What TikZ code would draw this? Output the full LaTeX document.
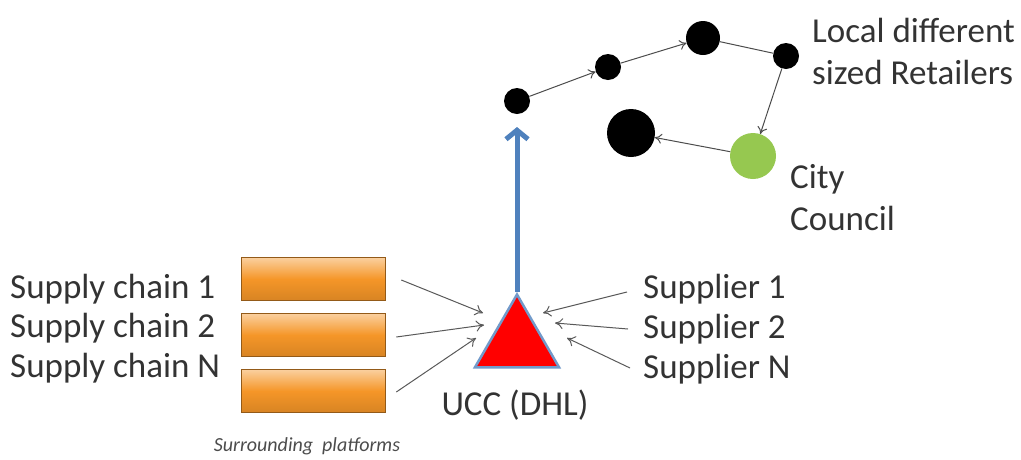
\documentclass[tikz,border=0pt]{standalone}
\usepackage{fontspec}
\setmainfont{Carlito}
\usetikzlibrary{shapes.geometric,arrows.meta}

\definecolor{ucclue}{RGB}{79,129,189}
\definecolor{barorange}{RGB}{245,150,40}
\definecolor{councilgreen}{RGB}{150,200,80}

\begin{document}
\begin{tikzpicture}[x=1pt,y=-1pt,
		lbl/.style={font=\fontsize{35}{40}\selectfont, text=black!80, inner sep=0pt},
		platform/.style={rectangle, minimum width=144pt, minimum height=43pt, inner sep=0pt,
			top color=barorange!45!white, bottom color=barorange!88!black, middle color=barorange,
			draw=barorange!60!black, line width=0.6pt},
		feed/.style={draw=black!65, line width=1pt, -{To[length=8pt,width=11pt]}},
		shop/.style={circle, fill=black, inner sep=0pt},
		route/.style={draw=black!70, line width=1pt, -{To[length=7pt,width=10pt]}}]
	\useasboundingbox (0,0) rectangle (1021,459);

	% surrounding platforms
	\foreach \i/\y/\ty/\name in {1/279/289/1, 2/335/328/2, 3/391/368/N} {
		\node[platform] (b\i) at (313,\y) {};
		\node[lbl, anchor=west] (sc\i) at (10,\ty) {Supply chain \name};
	}
	\node[font=\itshape\fontsize{20}{24}\selectfont, text=black!70] (plat) at (307,446) {Surrounding\ \ platforms};

	% UCC
	\node[regular polygon, regular polygon sides=3, minimum size=97pt, inner sep=0pt,
		fill=red, draw=ucclue!80, line width=2.5pt] (ucc) at (517,343) {};
	\node[lbl] (ucctext) at (515,405) {UCC (DHL)};

	% suppliers
	\foreach \i/\y/\name in {1/289/1, 2/329/2, 3/369/N}
		\node[lbl, anchor=west] (s\i) at (643,\y) {Supplier \name};

	% feeding arrows
	\coordinate (l1) at (483,313);
	\coordinate (l2) at (484,325);
	\coordinate (l3) at (476,338);
	\coordinate (r1) at (543,313);
	\coordinate (r2) at (555,323);
	\coordinate (r3) at (567,338);
	\draw[feed] ([xshift=16pt,yshift=-1pt]b1.east) -- (l1);
	\draw[feed] ([xshift=11pt,yshift=-2pt]b2.east) -- (l2);
	\draw[feed] ([xshift=11pt,yshift=-1pt]b3.east) -- (l3);
	\draw[feed] ([xshift=-16pt,yshift=-3pt]s1.west) -- (r1);
	\draw[feed] ([xshift=-15pt]s2.west) -- (r2);
	\draw[feed] ([xshift=-13pt,yshift=1pt]s3.west) -- (r3);

	% retailers
	\path	(517,101) node[shop, minimum size=26pt] (p0) {}
		(608,67) node[shop, minimum size=26pt] (p1) {}
		(703,38) node[shop, minimum size=34pt] (p2) {}
		(786,56) node[shop, minimum size=26pt] (p3) {}
		(753,156) node[circle, fill=councilgreen, inner sep=0pt, minimum size=46pt] (cc) {}
		(631,133) node[shop, minimum size=48pt] (p4) {};
	\draw[route] (p0) -- (p1);
	\draw[route] (p1) -- (p2);
	\draw[draw=black!70, line width=1pt] (p2) -- (p3);
	\draw[route] (p3) -- (cc);
	\draw[route] (cc) -- (p4);

	\draw[ucclue, line width=5pt, -{Straight Barb[length=9pt,width=22pt]}] (ucc.north) -- (517,127) coordinate (top);

	\node[lbl, anchor=west] (ret1) at (812,30) {Local different};
	\node[lbl, anchor=west] (ret2) at (812,72) {sized Retailers};
	\node[lbl, anchor=west] (city1) at (790,179) {City};
	\node[lbl, anchor=west] (city2) at (790,218) {Council};
\end{tikzpicture}
\end{document}
